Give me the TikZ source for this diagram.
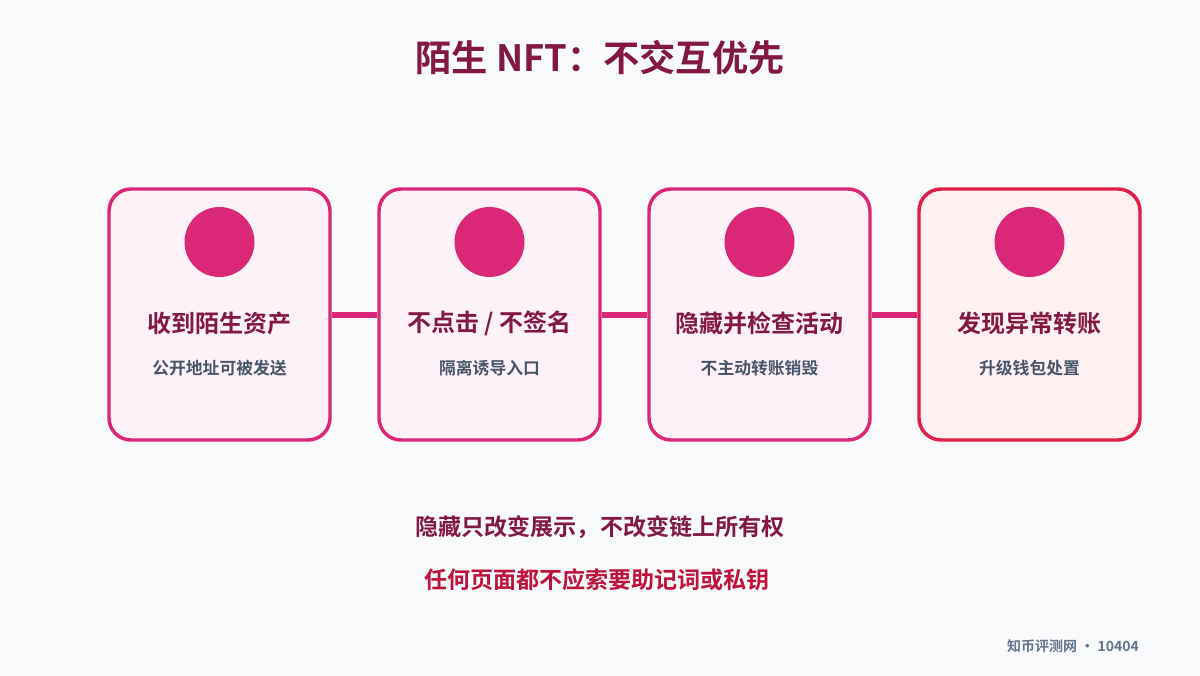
\documentclass[tikz,border=0pt]{standalone}
\usepackage{fontspec}
\setmainfont{Noto Sans CJK SC}[BoldFont={Noto Sans CJK SC Bold}]
\definecolor{bg}{HTML}{F8FAFC}
\definecolor{pinkline}{HTML}{DB2777}
\definecolor{pinkfill}{HTML}{FDF2F8}
\definecolor{roseline}{HTML}{E11D48}
\definecolor{rosefill}{HTML}{FFF1F2}
\definecolor{darktext}{HTML}{831843}
\definecolor{subtext}{HTML}{475569}
\definecolor{warntext}{HTML}{BE123C}
\definecolor{foot}{HTML}{64748B}
\tikzset{
  card/.style={draw=pinkline, fill=pinkfill, line width=2.6pt, rounded corners=16.5pt,
    minimum width=165.75pt, minimum height=188.25pt},
  warncard/.style={card, draw=roseline, fill=rosefill},
  dot/.style={circle, fill=pinkline, minimum size=52.5pt, inner sep=0pt},
  cardtitle/.style={text=darktext, font=\fontsize{18}{21}\selectfont\bfseries},
  cardsub/.style={text=subtext, font=\fontsize{12.6}{15}\selectfont\bfseries},
  link/.style={draw=pinkline, line width=4.5pt},
}
\begin{document}
\begin{tikzpicture}[x=0.75pt, y=-0.75pt]
\useasboundingbox (0,0) rectangle (1200,675);
\fill[bg] (0,0) rectangle (1200,675);
\node[text=darktext, font=\fontsize{27.2}{32}\selectfont\bfseries] (title) at (600,58) {陌生 NFT：不交互优先};

\node[card] (b1) at (219.5,314.5) {};
\node[card] (b2) at (489.5,314.5) {};
\node[card] (b3) at (759.5,314.5) {};
\node[warncard] (b4) at (1029.5,314.5) {};

\draw[link] (b1.east) -- (b2.west);
\draw[link] (b2.east) -- (b3.west);
\draw[link] (b3.east) -- (b4.west);

\node[dot] (c1) at (219.5,242) {};
\node[dot] (c2) at (489.5,242) {};
\node[dot] (c3) at (759.5,242) {};
\node[dot] (c4) at (1029.5,242) {};

\node[cardtitle] (t1) at (219.5,323) {收到陌生资产};
\node[cardtitle] (t2) at (489.5,323) {不点击 / 不签名};
\node[cardtitle] (t3) at (759.5,323) {隐藏并检查活动};
\node[cardtitle] (t4) at (1029.5,323) {发现异常转账};

\node[cardsub] (s1) at (219.5,368) {公开地址可被发送};
\node[cardsub] (s2) at (489.5,368) {隔离诱导入口};
\node[cardsub] (s3) at (759.5,368) {不主动转账销毁};
\node[cardsub] (s4) at (1029.5,368) {升级钱包处置};

\node[text=darktext, font=\fontsize{17.3}{20}\selectfont\bfseries] (n1) at (600,527) {隐藏只改变展示，不改变链上所有权};
\node[text=warntext, font=\fontsize{17.3}{20}\selectfont\bfseries] (n2) at (597,580) {任何页面都不应索要助记词或私钥};
\node[text=foot, font=\fontsize{10.5}{12.6}\selectfont\bfseries] (ft) at (1073,646) {知币评测网 · 10404};
\end{tikzpicture}
\end{document}
